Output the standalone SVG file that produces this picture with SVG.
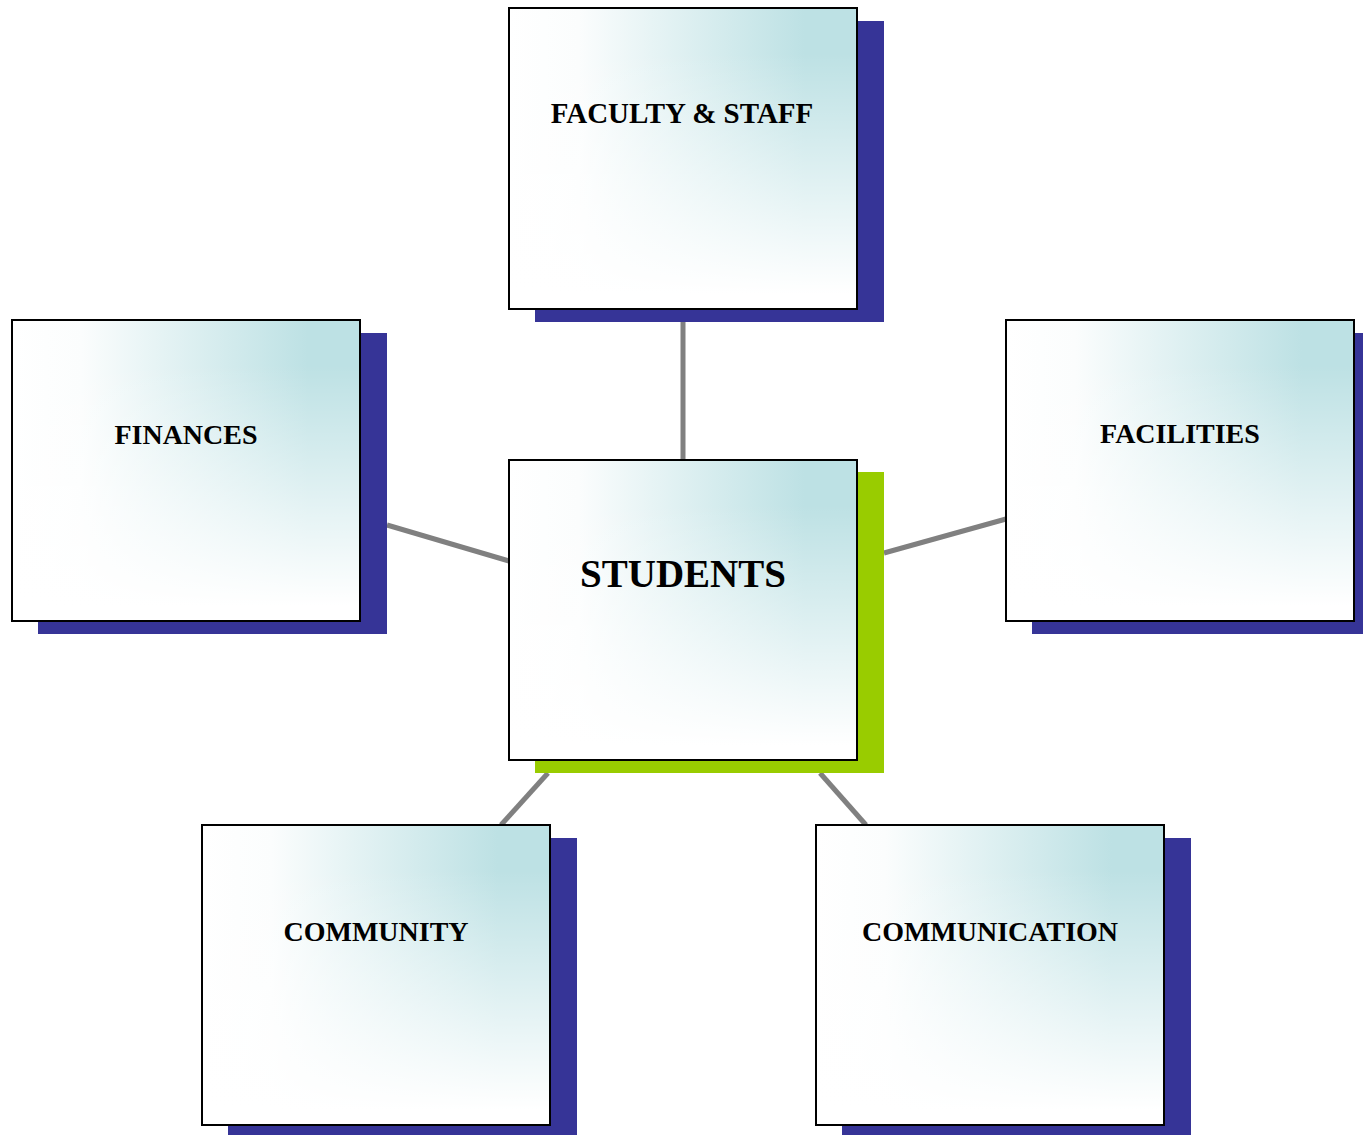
<svg xmlns="http://www.w3.org/2000/svg" width="1363" height="1135" viewBox="0 0 1363 1135">
<style>
.shadow{fill:#363497}
.shadowg{fill:#99cc00}
.box{stroke:#000;stroke-width:2}
.bg{fill:url(#gh)}
.ov{fill:url(#gv)}
.lbl{font-family:"Liberation Serif","Times New Roman",serif;font-weight:bold;font-size:28px;fill:#000;text-anchor:middle}
.conn{stroke:#808080;stroke-width:5;fill:none}
</style>
<defs>
<linearGradient id="gh" x1="0" y1="0" x2="1" y2="0">
<stop offset="0" stop-color="#ffffff"/>
<stop offset="0.2" stop-color="#fbfdfd"/>
<stop offset="0.85" stop-color="#bde1e4"/>
<stop offset="1" stop-color="#bde1e4"/>
</linearGradient>
<linearGradient id="gv" x1="0" y1="0" x2="0" y2="1">
<stop offset="0.15" stop-color="#ffffff" stop-opacity="0"/>
<stop offset="0.95" stop-color="#ffffff" stop-opacity="1"/>
<stop offset="1" stop-color="#ffffff" stop-opacity="1"/>
</linearGradient>
</defs>
<g id="connectors">
<line class="conn" x1="683" y1="322" x2="683" y2="460"/>
<line class="conn" x1="387" y1="525" x2="509" y2="561"/>
<line class="conn" x1="884" y1="553" x2="1006" y2="519"/>
<line class="conn" x1="501" y1="825" x2="548" y2="773"/>
<line class="conn" x1="820" y1="773" x2="866" y2="825"/>
</g>
<g id="faculty">
<rect class="shadow" x="535" y="21" width="349" height="301"/>
<rect class="bg" x="509" y="8" width="348" height="301"/>
<rect class="ov" x="509" y="8" width="348" height="301"/>
<rect class="box" x="509" y="8" width="348" height="301" fill="none"/>
<text class="lbl" x="682" y="123" style="font-size:29px">FACULTY &amp; STAFF</text>
</g>
<g id="finances">
<rect class="shadow" x="38" y="333" width="349" height="301"/>
<rect class="bg" x="12" y="320" width="348" height="301"/>
<rect class="ov" x="12" y="320" width="348" height="301"/>
<rect class="box" x="12" y="320" width="348" height="301" fill="none"/>
<text class="lbl" x="186" y="444">FINANCES</text>
</g>
<g id="facilities">
<rect class="shadow" x="1032" y="333" width="331" height="301"/>
<rect class="bg" x="1006" y="320" width="348" height="301"/>
<rect class="ov" x="1006" y="320" width="348" height="301"/>
<rect class="box" x="1006" y="320" width="348" height="301" fill="none"/>
<text class="lbl" x="1180" y="443">FACILITIES</text>
</g>
<g id="students">
<rect class="shadowg" x="535" y="472" width="349" height="301"/>
<rect class="bg" x="509" y="460" width="348" height="300"/>
<rect class="ov" x="509" y="460" width="348" height="300"/>
<rect class="box" x="509" y="460" width="348" height="300" fill="none"/>
<text class="lbl" x="683" y="587" style="font-size:39px">STUDENTS</text>
</g>
<g id="community">
<rect class="shadow" x="228" y="838" width="349" height="297"/>
<rect class="bg" x="202" y="825" width="348" height="300"/>
<rect class="ov" x="202" y="825" width="348" height="300"/>
<rect class="box" x="202" y="825" width="348" height="300" fill="none"/>
<text class="lbl" x="376" y="941">COMMUNITY</text>
</g>
<g id="communication">
<rect class="shadow" x="842" y="838" width="349" height="297"/>
<rect class="bg" x="816" y="825" width="348" height="300"/>
<rect class="ov" x="816" y="825" width="348" height="300"/>
<rect class="box" x="816" y="825" width="348" height="300" fill="none"/>
<text class="lbl" x="990" y="941">COMMUNICATION</text>
</g>
</svg>
